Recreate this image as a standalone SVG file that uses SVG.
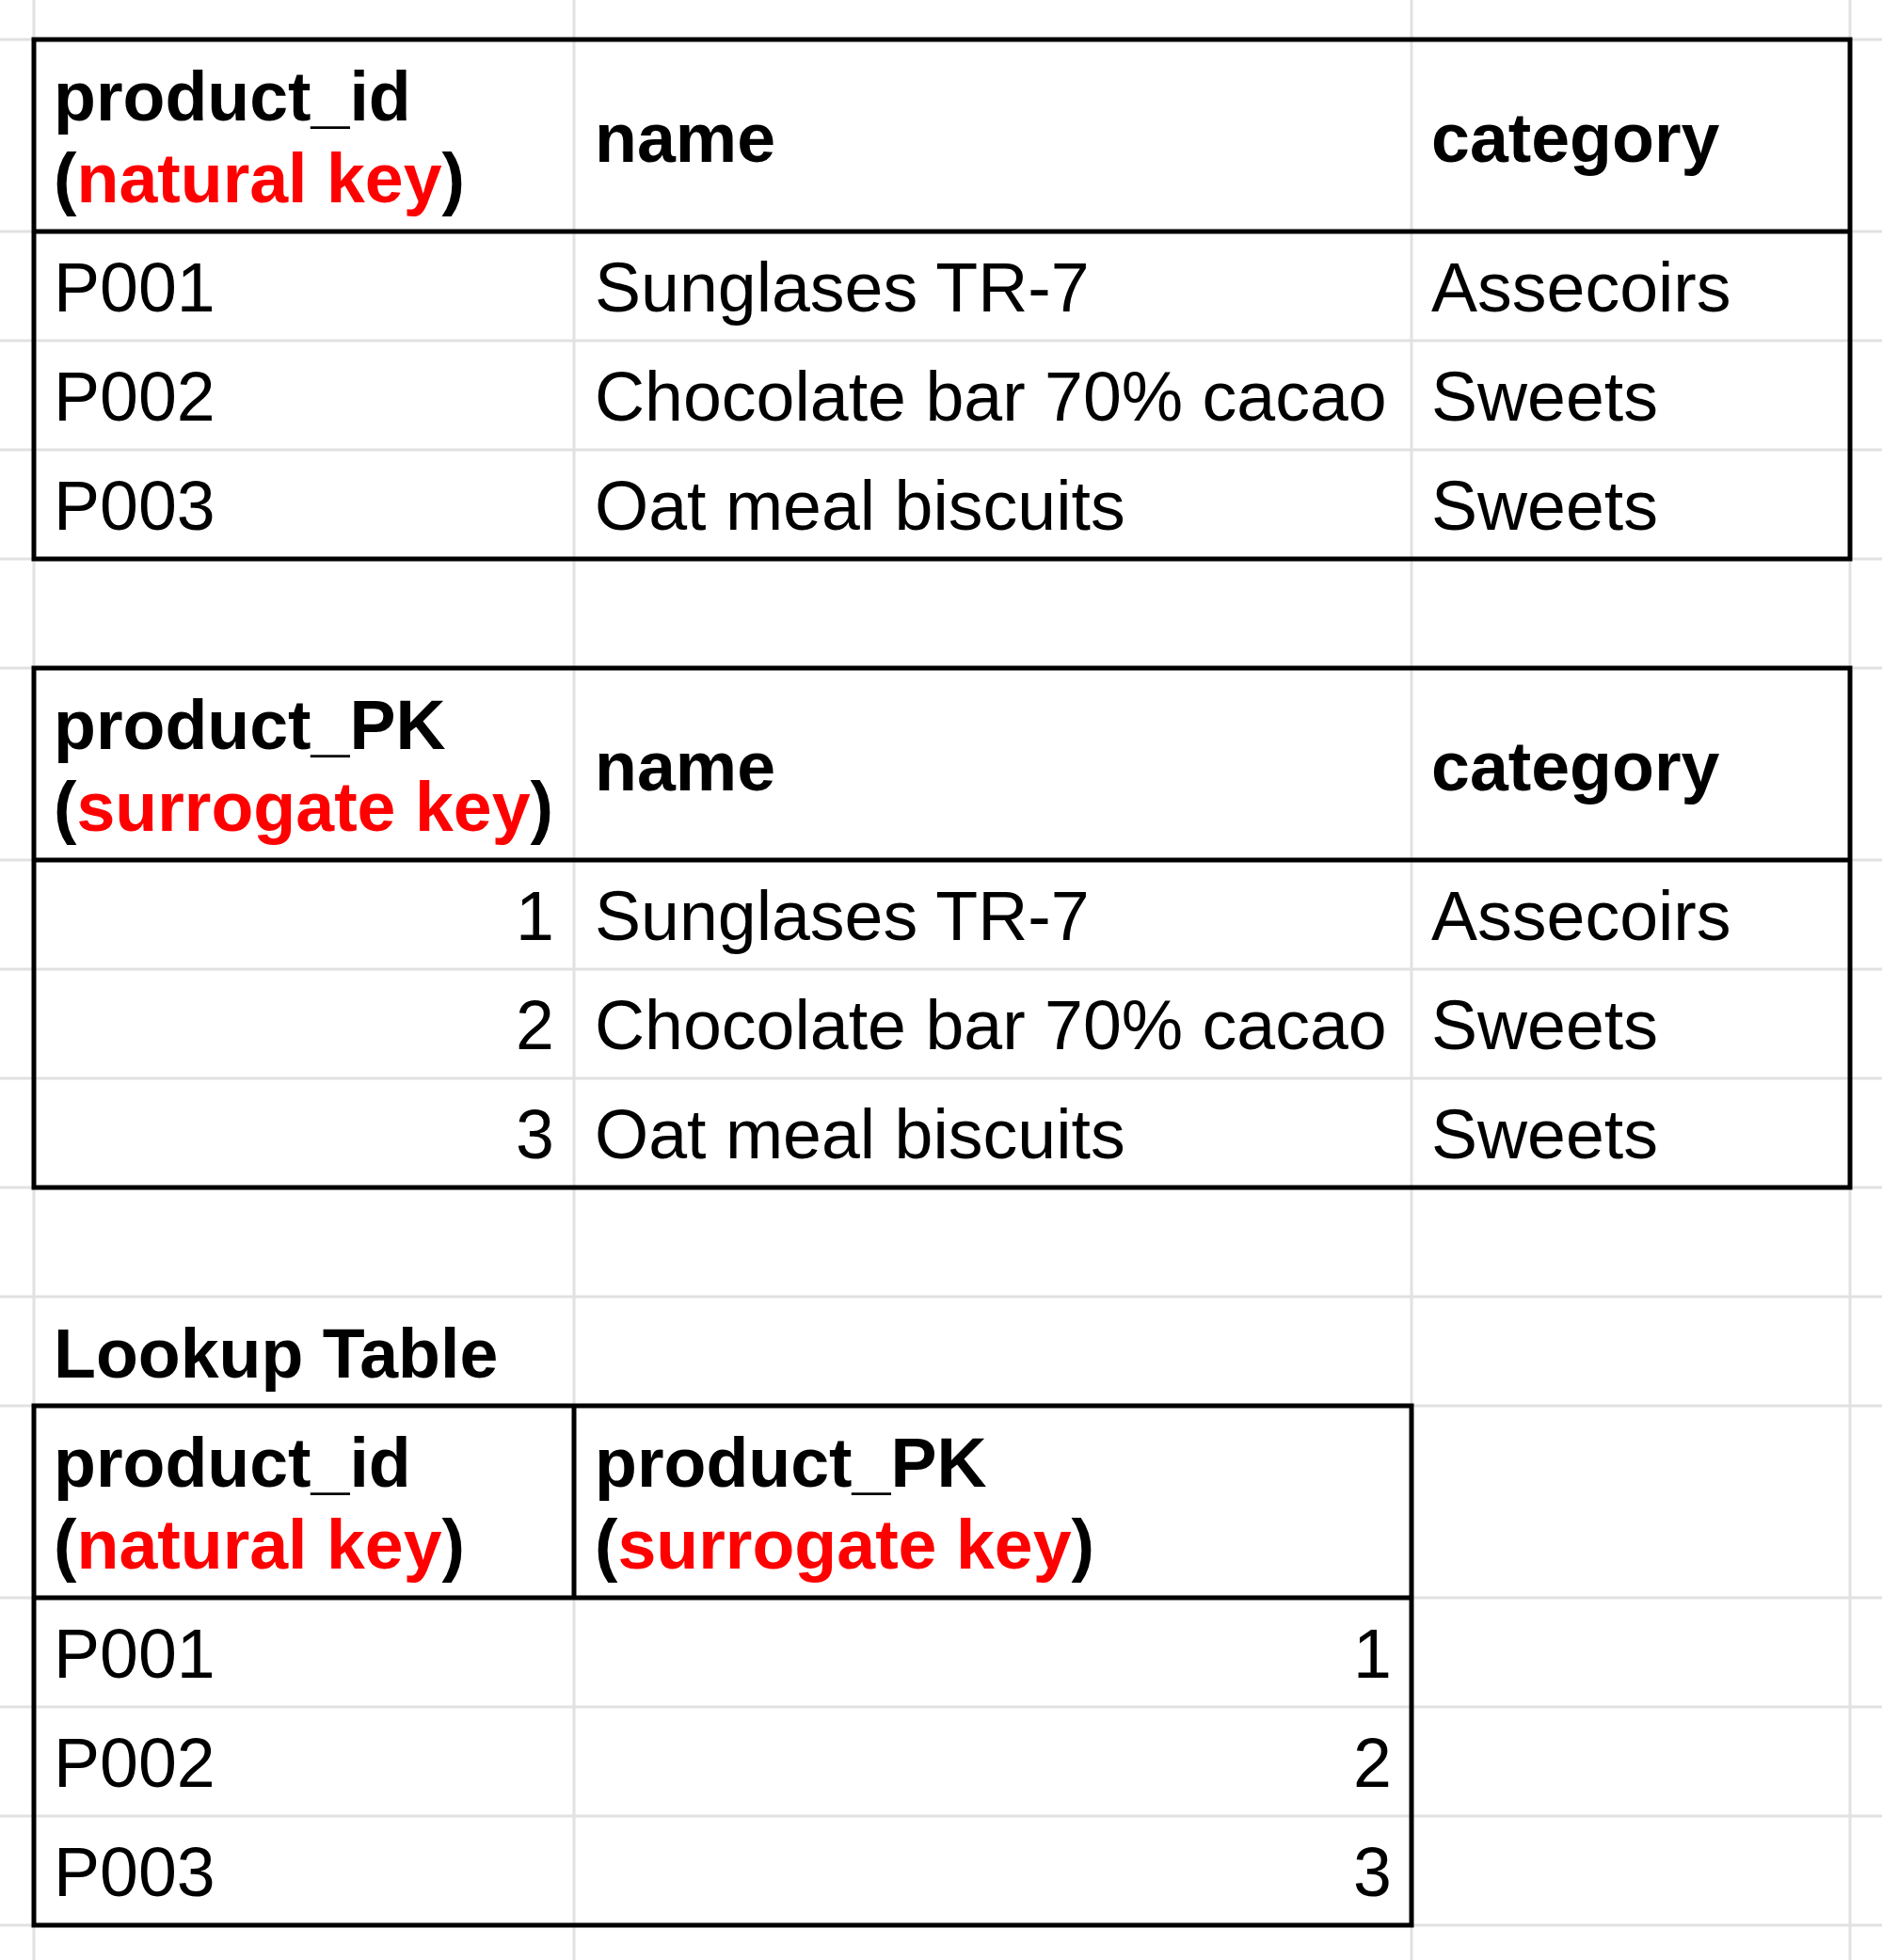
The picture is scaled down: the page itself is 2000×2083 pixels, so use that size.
<svg xmlns="http://www.w3.org/2000/svg" width="2000" height="2083" viewBox="0 0 2000 2083">
<style>
.g{stroke:#e1e1e1;stroke-width:3;fill:none}
.b{stroke:#000;stroke-width:5;fill:none}
text{font-family:"Liberation Sans",Arial,sans-serif;font-size:73.5px;fill:#000}
.h{font-weight:bold}
.r{fill:#ff0000}
.e{text-anchor:end}
</style>
<rect width="2000" height="2083" fill="#fff"/>
<g id="grid">
<path class="g" d="M0 42H2000M0 246H2000M0 362H2000M0 478H2000M0 594H2000M0 710H2000M0 914H2000M0 1030H2000M0 1146H2000M0 1262H2000M0 1378H2000M0 1494H2000M0 1698H2000M0 1814H2000M0 1930H2000M0 2046H2000"/>
<path class="g" d="M36 0V2083M610 0V2083M1500 0V2083M1966 0V2083"/>
</g>
<g id="natural-key-table">
<rect class="b" x="36" y="42" width="1930" height="552"/>
<path class="b" d="M36 246H1966"/>
<text class="h" x="57" y="128">product_id</text>
<text class="h" x="57" y="215">(<tspan class="r">natural key</tspan>)</text>
<text class="h" x="632" y="172">name</text>
<text class="h" x="1521" y="172">category</text>
<text x="57" y="331">P001</text>
<text x="632" y="331">Sunglases TR-7</text>
<text x="1521" y="331">Assecoirs</text>
<text x="57" y="447">P002</text>
<text x="632" y="447">Chocolate bar 70% cacao</text>
<text x="1521" y="447">Sweets</text>
<text x="57" y="563">P003</text>
<text x="632" y="563">Oat meal biscuits</text>
<text x="1521" y="563">Sweets</text>
</g>
<g id="surrogate-key-table">
<rect class="b" x="36" y="710" width="1930" height="552"/>
<path class="b" d="M36 914H1966"/>
<text class="h" x="57" y="796">product_PK</text>
<text class="h" x="57" y="883">(<tspan class="r">surrogate key</tspan>)</text>
<text class="h" x="632" y="840">name</text>
<text class="h" x="1521" y="840">category</text>
<text class="e" x="589" y="999">1</text>
<text x="632" y="999">Sunglases TR-7</text>
<text x="1521" y="999">Assecoirs</text>
<text class="e" x="589" y="1115">2</text>
<text x="632" y="1115">Chocolate bar 70% cacao</text>
<text x="1521" y="1115">Sweets</text>
<text class="e" x="589" y="1231">3</text>
<text x="632" y="1231">Oat meal biscuits</text>
<text x="1521" y="1231">Sweets</text>
</g>
<g id="lookup-table">
<text class="h" x="57" y="1464">Lookup Table</text>
<rect class="b" x="36" y="1494" width="1464" height="552"/>
<path class="b" d="M36 1698H1500M610 1494V1698"/>
<text class="h" x="57" y="1580">product_id</text>
<text class="h" x="57" y="1667">(<tspan class="r">natural key</tspan>)</text>
<text class="h" x="632" y="1580">product_PK</text>
<text class="h" x="632" y="1667">(<tspan class="r">surrogate key</tspan>)</text>
<text x="57" y="1783">P001</text>
<text class="e" x="1479" y="1783">1</text>
<text x="57" y="1899">P002</text>
<text class="e" x="1479" y="1899">2</text>
<text x="57" y="2015">P003</text>
<text class="e" x="1479" y="2015">3</text>
</g>
</svg>
